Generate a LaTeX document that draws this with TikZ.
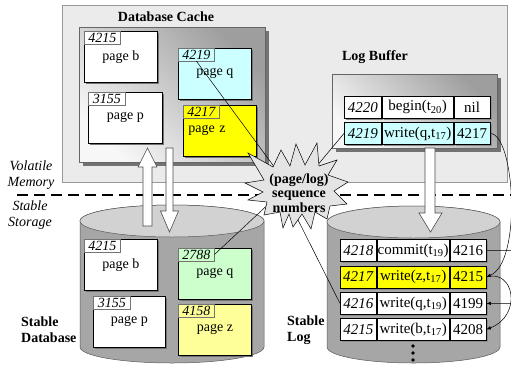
\documentclass[tikz,border=0pt]{standalone}
\usepackage{fontspec}
\setmainfont{Liberation Serif}
\usetikzlibrary{arrows.meta,shadows}
\definecolor{cyanp}{HTML}{CCFFFF}
\definecolor{greenp}{HTML}{CCFFCC}
\definecolor{yellowp}{HTML}{FFFF00}
\definecolor{lyellowp}{HTML}{FFFF99}
\definecolor{bggray}{HTML}{EBEBEB}
\definecolor{cylbody}{HTML}{A6A6A6}
\definecolor{cyltop}{HTML}{D2D2D2}
\definecolor{burst}{HTML}{E4E4E4}
\begin{document}
\begin{tikzpicture}[x=1pt,y=-1pt,
  pagebox/.style={draw=black, line width=0.8pt, fill=white, minimum width=73pt, minimum height=51pt,
    inner sep=0pt, anchor=north west, font=\fontsize{14}{16}\selectfont,
    drop shadow={shadow xshift=2pt, shadow yshift=-2pt, fill=black!55, opacity=1}},
  tabbox/.style={draw=black!55, line width=0.5pt, minimum width=36pt, minimum height=12.5pt,
    inner sep=0pt, anchor=north west, font=\fontsize{14}{14}\selectfont\itshape},
  cell/.style={draw=black, line width=0.8pt, fill=white, minimum height=22pt, inner sep=0pt,
    anchor=north west, font=\fontsize{15}{17}\selectfont,
    drop shadow={shadow xshift=2pt, shadow yshift=-2pt, fill=black!45, opacity=1}},
  boldlab/.style={font=\fontsize{14}{16}\selectfont\bfseries, inner sep=0pt},
  itlab/.style={font=\fontsize{14}{16}\selectfont\itshape, align=center, inner sep=0pt},
  conn/.style={draw=black, line width=0.5pt},
  ptr/.style={draw=black, line width=0.5pt, -{Latex[length=4.5pt,width=3.5pt]}},
  blockarrow/.style={draw=black!70, line width=0.6pt, fill=white},
  cyl/.style={draw=black!65, line width=0.5pt}
]
\useasboundingbox (0,0) rectangle (511,365);

% volatile memory region
\draw[draw=black!40, fill=bggray] (62,5) rectangle (507,182);
% separation line
\draw[line width=2.6pt, dash pattern=on 11pt off 6pt] (17,195) -- (511,195);

% side labels
\node[itlab] (vol) at (31,175.5) {Volatile\\Memory};
\node[itlab] (sta) at (30,215) {Stable\\Storage};

% ---------- Database cache ----------
\node[boldlab] (dbct) at (166,17) {Database Cache};
\fill[black!55] (82.5,30.5) rectangle (268.5,165.5);
\shade[draw=black!60, line width=0.5pt, top color=black!38, bottom color=black!3, shading angle=-45] (79,27) rectangle (265,162);

\node[pagebox] (cb) at (84,31) {page b};
\node[tabbox] (cbt) at (cb.north west) {4215};
\node[pagebox, minimum width=74pt] (cp) at (88,92) {page p};
\node[tabbox, minimum width=37pt] (cpt) at (cp.north west) {3155};
\node[pagebox, fill=cyanp] (cq) at (178,48) {page q};
\node[tabbox] (cqt) at (cq.north west) {4219};
\node[pagebox, fill=yellowp, text width=63pt, align=left, inner xsep=5pt] (cz) at (183,105) {page z};
\node[tabbox] (czt) at (cz.north west) {4217};

% ---------- Log buffer ----------
\node[boldlab] (lbt) at (375,57) {Log Buffer};
\fill[black!55] (335.5,77.5) rectangle (500.5,151.5);
\shade[draw=black!60, line width=0.5pt, top color=black!38, bottom color=black!3, shading angle=-45] (332,74) rectangle (497,148);

\node[cell, minimum width=37pt] (lb1a) at (344,96) {\textit{4220}};
\node[cell, minimum width=71pt] (lb1b) at (lb1a.north east) {begin(t\textsubscript{20})};
\node[cell, minimum width=36pt] (lb1c) at (lb1b.north east) {nil};
\node[cell, fill=cyanp, minimum width=37pt] (lb2a) at (344,122) {\textit{4219}};
\node[cell, fill=cyanp, minimum width=71pt] (lb2b) at (lb2a.north east) {write(q,t\textsubscript{17})};
\node[cell, fill=cyanp, minimum width=36pt] (lb2c) at (lb2b.north east) {4217};

% ---------- Stable database cylinder ----------
\path[cyl, fill=cylbody] (80,221) -- (80,347) arc[start angle=180, end angle=360, x radius=92pt, y radius=16pt]
  -- (264,221) arc[start angle=0, end angle=180, x radius=92pt, y radius=16pt] -- cycle;
\path[cyl, fill=cyltop] (172,221) ellipse [x radius=92pt, y radius=16pt];

\node[pagebox] (sb) at (84,239) {page b};
\node[tabbox] (sbt) at (sb.north west) {4215};
\node[pagebox, minimum width=72pt] (sp) at (93,296) {page p};
\node[tabbox, minimum width=37pt] (spt) at (sp.north west) {3155};
\node[pagebox, fill=greenp] (sq) at (178,248) {page q};
\node[tabbox] (sqt) at (sq.north west) {2788};
\node[pagebox, fill=lyellowp] (sz) at (178,304) {page z};
\node[tabbox] (szt) at (sz.north west) {4158};

\node[boldlab, anchor=west, align=left] (sdbl) at (21,330) {Stable\\Database};

% ---------- Stable log cylinder ----------
\path[cyl, fill=cylbody] (327,222) -- (327,347) arc[start angle=180, end angle=360, x radius=86.5pt, y radius=16pt]
  -- (500,222) arc[start angle=0, end angle=180, x radius=86.5pt, y radius=16pt] -- cycle;
\path[cyl, fill=cyltop] (413.5,222) ellipse [x radius=86.5pt, y radius=16pt];

\node[cell, minimum width=36pt] (sl1a) at (340,239) {\textit{4218}};
\node[cell, minimum width=72pt] (sl1b) at (sl1a.north east) {commit(t\textsubscript{19})};
\node[cell, minimum width=36pt] (sl1c) at (sl1b.north east) {4216};
\node[cell, fill=yellowp, minimum width=36pt] (sl2a) at (340,265.5) {\textit{4217}};
\node[cell, fill=yellowp, minimum width=72pt] (sl2b) at (sl2a.north east) {write(z,t\textsubscript{17})};
\node[cell, fill=yellowp, minimum width=36pt] (sl2c) at (sl2b.north east) {4215};
\node[cell, minimum width=36pt] (sl3a) at (340,292) {\textit{4216}};
\node[cell, minimum width=72pt] (sl3b) at (sl3a.north east) {write(q,t\textsubscript{19})};
\node[cell, minimum width=36pt] (sl3c) at (sl3b.north east) {4199};
\node[cell, minimum width=36pt] (sl4a) at (340,318) {\textit{4215}};
\node[cell, minimum width=72pt] (sl4b) at (sl4a.north east) {write(b,t\textsubscript{17})};
\node[cell, minimum width=36pt] (sl4c) at (sl4b.north east) {4208};

\fill (413,346) circle (1.8pt) (413,353) circle (1.8pt) (413,360) circle (1.8pt);

\node[boldlab, anchor=west, align=left] (sll) at (287,330.5) {Stable\\Log};

% ---------- block arrows ----------
\draw[blockarrow] (143,226) -- (143,167) -- (138,167) -- (147.5,148) -- (157,167) -- (152,167) -- (152,226) -- cycle;
\draw[blockarrow] (166,148) -- (166,211) -- (160.5,211) -- (169.5,232) -- (178.5,211) -- (173,211) -- (173,148) -- cycle;
\draw[blockarrow] (425,148) -- (425,213) -- (419,213) -- (430.5,232) -- (442,213) -- (435,213) -- (435,148) -- cycle;

% ---------- connectors to the sequence numbers ----------
\coordinate (sbA) at (278,172);
\coordinate (sbB) at (316,167);
\coordinate (sbC) at (275,198);
\coordinate (sbD) at (296,216);
\draw[conn] (cqt.south) -- (sbA);
\draw[conn] (lb2a.west) -- (sbB);
\draw[conn] (sbC) -- (sqt.east);
\draw[conn] (sbD) -- (sl3a.west);

% ---------- starburst ----------
\draw[fill=burst, draw=black, line width=0.5pt, line join=miter]
  (245,183) -- (264,180) -- (248,153) -- (273,167) -- (281,150) -- (290,166) -- (296,144) -- (305,165)
  -- (317,143) -- (319,166) -- (337,160) -- (328,175) -- (348,182) -- (334,191) -- (347,204) -- (330,206)
  -- (327,219) -- (315,212) -- (311,229) -- (302,214) -- (293,227) -- (289,214) -- (283,228) -- (280,212)
  -- (264,215) -- (267,202) -- (248,200) -- (263,192) -- cycle;
\node[boldlab, align=center, font=\fontsize{14}{14.5}\selectfont\bfseries] (sbt) at (299,193) {(page/log)\\sequence\\numbers};

% ---------- log back pointers ----------
\draw[ptr] (lb2c.east) .. controls (515,135) and (522,262) .. (sl2c.east);
\draw[ptr] (sl1c.east) -- ++(34,0) arc[start angle=90, end angle=-90, radius=26.5pt] -- (sl3c.east);
\draw[ptr] (sl2c.east) .. controls +(28,-8) and +(36,-14) .. (sl4c.east);
\end{tikzpicture}
\end{document}
